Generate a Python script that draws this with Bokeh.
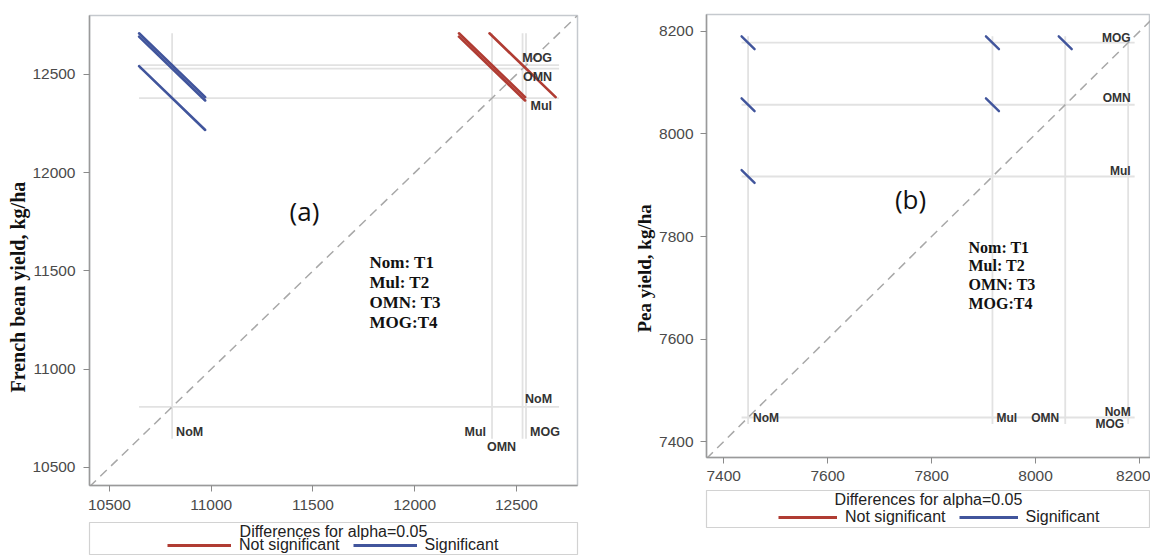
import math
from bokeh.plotting import figure
from bokeh.models import Range1d, FixedTicker, Label, Legend, LegendItem, Title
from bokeh.layouts import row, column
from bokeh.embed import file_html
from bokeh.resources import INLINE
from bokeh.core.properties import value

# ---------------- data ----------------
levels = ["NoM", "Mul", "OMN", "MOG"]
bean_means = [10808, 12380, 12530, 12547]
pea_means = [7447, 7917, 8057, 8178]
pair_low = ["NoM", "NoM", "NoM", "Mul", "Mul", "OMN"]
pair_high = ["Mul", "OMN", "MOG", "OMN", "MOG", "MOG"]
bean_lsd = [325, 325, 325, 325, 325, 325]
pea_lsd = [25, 25, 25, 25, 25, 25]
bean_ticks = [10500, 11000, 11500, 12000, 12500]
pea_ticks = [7400, 7600, 7800, 8000, 8200]
treatment_key = ["Nom: T1", "Mul: T2", "OMN: T3", "MOG:T4"]
legend_title = "Differences for alpha=0.05"
legend_labels = ["Not significant", "Significant"]
bean_ylabel = "French bean  yield, kg/ha"
pea_ylabel = "Pea yield, kg/ha"

# ---------------- style ----------------
RED = "#b03c33"
BLUE = "#41559c"
REF = "#e2e2e2"
SANS = "Liberation Sans"
SERIF = "Liberation Serif"


def diffogram(means, lsd, ticks, xr, yr, width, height, borders, cfg):
    m = dict(zip(levels, means))
    xl = [m[a] for a in pair_low]
    yh = [m[b] for b in pair_high]
    h = [d / 2.0 for d in lsd]
    x0 = [a - d for a, d in zip(xl, h)]
    x1 = [a + d for a, d in zip(xl, h)]
    y0 = [b + d for b, d in zip(yh, h)]
    y1 = [b - d for b, d in zip(yh, h)]
    sig = [abs(b - a) > d for a, b, d in zip(xl, yh, lsd)]
    lo = min(x0 + y1)
    hi = max(x1 + y0)

    L, R, T, B = borders
    p = figure(width=width, height=height, x_range=Range1d(*xr), y_range=Range1d(*yr),
               output_backend="svg", toolbar_location=None,
               min_border_left=L, min_border_right=R, min_border_top=T, min_border_bottom=B)
    p.xgrid.grid_line_color = None
    p.ygrid.grid_line_color = None
    p.outline_line_color = "#c5c9ce"
    p.outline_line_width = 1.5
    p.background_fill_color = "white"
    p.border_fill_color = "white"
    for ax in (p.xaxis[0], p.yaxis[0]):
        ax.ticker = FixedTicker(ticks=ticks)
        ax.minor_tick_line_color = None
        ax.major_tick_in = 0
        ax.major_tick_out = 6
        ax.major_tick_line_color = "#8a8a8a"
        ax.axis_line_color = "#9a9a9a"
        ax.axis_line_width = 1.5
        ax.major_label_text_font = SANS
        ax.major_label_text_font_size = "15.5px"
        ax.major_label_text_color = "#4a4a4a"
        ax.major_label_standoff = cfg["standoff"]

    # axis title (placed along the left side, as in the original)
    p.add_layout(Title(text=cfg["ylabel"], align="left", offset=cfg["yl_offset"],
                       standoff=cfg["yl_standoff"], text_font=SERIF, text_font_style="bold",
                       text_font_size=cfg["yl_fs"], text_color="#111111"), "left")

    # reference lines for each level
    p.segment(x0=[lo] * len(means), x1=[hi] * len(means), y0=means, y1=means,
              line_color=REF, line_width=1.8)
    p.segment(x0=means, x1=means, y0=[lo] * len(means), y1=[hi] * len(means),
              line_color=REF, line_width=1.8)

    # diagonal
    d0 = min(xr[0], yr[0])
    d1 = max(xr[1], yr[1])
    p.line(x=[d0, d1], y=[d0, d1], line_color="#a8a8a8", line_width=1.5, line_dash="9 6")

    # difference segments
    for flag, col in ((False, RED), (True, BLUE)):
        idx = [i for i, s in enumerate(sig) if s == flag]
        if idx:
            p.segment(x0=[x0[i] for i in idx], y0=[y0[i] for i in idx],
                      x1=[x1[i] for i in idx], y1=[y1[i] for i in idx],
                      line_color=col, line_width=cfg["seg_w"], line_cap="round")

    # level labels
    for i, lev in enumerate(levels):
        p.text(x=[hi], y=[means[i]], text=[lev], text_align="right", text_baseline="middle",
               x_offset=cfg["r_dx"], y_offset=cfg["r_dy"][i],
               text_font=value(SANS), text_font_style="bold",
               text_font_size=cfg["lab_fs"], text_color="#333333")
        p.text(x=[means[i]], y=[lo], text=[lev], text_align=cfg["b_align"][i],
               text_baseline="middle",
               x_offset=cfg["b_dx"][i], y_offset=cfg["b_dy"][i],
               text_font=value(SANS), text_font_style="bold",
               text_font_size=cfg["lab_fs"], text_color="#333333")

    # panel tag and treatment key
    p.add_layout(Label(x=cfg["tag_xy"][0], y=cfg["tag_xy"][1], x_units="screen", y_units="screen",
                       text=cfg["tag"], text_align="center", text_baseline="middle",
                       text_font="Open Sans", text_font_size="26px", text_color="#111111"))
    p.add_layout(Label(x=cfg["key_xy"][0], y=cfg["key_xy"][1], x_units="screen", y_units="screen",
                       text="\n".join(treatment_key), text_align="left", text_baseline="top",
                       text_font=SERIF, text_font_style="bold", text_font_size=cfg["key_fs"],
                       text_line_height=cfg["key_lh"], text_color="#111111"))
    return p


def legend_panel(width, height, borders, title_y, items_xy, glyph_w, spacing):
    L, R, T, B = borders
    q = figure(width=width, height=height, x_range=Range1d(0, 1), y_range=Range1d(0, 1),
               x_axis_type=None, y_axis_type=None, output_backend="svg",
               toolbar_location=None, min_border_left=L, min_border_right=R,
               min_border_top=T, min_border_bottom=B)
    q.xgrid.grid_line_color = None
    q.ygrid.grid_line_color = None
    q.outline_line_color = "#d2d2d2"
    q.outline_line_width = 1.2
    q.add_layout(Label(x=0.5, y=title_y, x_units="data", y_units="screen", text=legend_title,
                       text_align="center", text_baseline="middle", text_font=SANS,
                       text_font_size="16px", text_color="#222222"))
    nan = float("nan")
    r_ns = q.line(x=[nan], y=[nan], line_color=RED, line_width=3)
    r_s = q.line(x=[nan], y=[nan], line_color=BLUE, line_width=3)
    lg = Legend(items=[LegendItem(label=legend_labels[0], renderers=[r_ns]),
                       LegendItem(label=legend_labels[1], renderers=[r_s])],
                location=items_xy, orientation="horizontal", glyph_width=glyph_w,
                glyph_height=16, label_height=16, label_standoff=8, spacing=spacing,
                padding=0, margin=0, border_line_color=None, background_fill_alpha=0,
                label_text_font=SANS, label_text_font_size="16px", label_text_color="#222222")
    q.add_layout(lg)
    return q


cfg_a = dict(standoff=8, seg_w=2.6, lab_fs="12.5px",
             r_dx=-7, r_dy=[-8, 8, 8, -7],
             b_align=["left", "right", "center", "left"],
             b_dx=[4, -6, -21, 4], b_dy=[-7, -7, 8, -7],
             tag="(a)", tag_xy=(215, 275), key_xy=(280, 233), key_fs="17px", key_lh=1.06,
             ylabel=bean_ylabel, yl_offset=93, yl_standoff=2, yl_fs="20px")
cfg_b = dict(standoff=7, seg_w=2.4, lab_fs="12px",
             r_dx=-4, r_dy=[-6, -6, -7, -5],
             b_align=["left", "left", "right", "right"],
             b_dx=[5, 4, -6, -4], b_dy=[-6, -6, -6, 0],
             tag="(b)", tag_xy=(204, 259), key_xy=(262, 219), key_fs="16px", key_lh=1.1,
             ylabel=pea_ylabel, yl_offset=125, yl_standoff=4, yl_fs="19px")

pa = diffogram(bean_means, bean_lsd, bean_ticks, (10402, 12800), (10408, 12800),
               598, 522, (89, 21, 15, 37), cfg_a)
la = legend_panel(598, 33, (89, 21, 0, 0), 24, (78, 1), 64, 13)
pb = diffogram(pea_means, pea_lsd, pea_ticks, (7367, 8221), (7369, 8233),
               552, 490, (108, 0, 14, 33), cfg_b)
lb = legend_panel(552, 38, (108, 0, 0, 0), 29, (72, 2), 59, 13)

layout = row(column(pa, la), column(pb, lb))
open("out.html", "w").write(file_html(layout, INLINE))
